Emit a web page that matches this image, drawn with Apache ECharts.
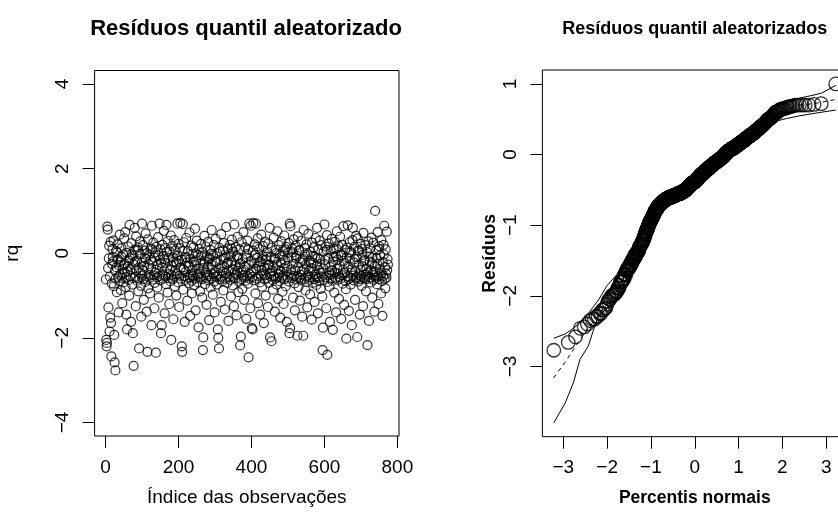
<!DOCTYPE html>
<html>
<head>
<meta charset="utf-8">
<script src="https://cdn.jsdelivr.net/npm/echarts@6/dist/echarts.min.js"></script>
<style>
html,body{margin:0;padding:0;background:#fff;}
#main{width:838px;height:529px;}
</style>
</head>
<body>
<div id="main"></div>
<script>
// ---- Data ----
// Randomized quantile residuals (rq), in observation order (index 1..774)
const rq = [
-0.62,-2.05,-2.2,-2.12,0.63,0.56,-0.35,-1.28,-0.12,0.18,-1.85,-0.55,-1.52,0.27,-1.65,-2.44,-0.71,-0.25,0.1,-0.09,
-0.19,0.3,-0.78,-1.93,-2.58,-0.41,-2.77,-0.6,0.05,-0.33,-0.92,0.02,0.21,-0.15,-0.56,-1.4,-0.29,-0.66,0.44,-0.51,
-0.2,-0.87,-0.08,0.12,-0.58,-1.18,-0.37,-0.03,-0.69,-0.28,0.35,-0.24,-0.46,0.5,-0.8,-0.57,-1.45,0.01,-1.8,-0.43,
-0.31,0.16,-0.63,-0.17,-1.0,0.67,-0.12,-0.54,-0.38,-1.62,0.24,-0.02,-0.74,-0.06,-1.89,-0.59,-2.66,-0.27,0.08,0.6,
-0.21,-0.56,-1.25,0.4,-0.41,-0.18,-0.65,0.06,0.14,-0.9,-0.34,-2.25,-0.6,-0.02,0.28,-0.47,-0.77,-1.5,-0.22,0.7,
-0.53,-0.4,0.19,-0.61,-1.1,-0.3,0.06,-0.11,-0.68,0.47,-0.14,-0.55,-1.38,0.0,-2.33,0.33,-0.83,-0.26,-0.51,-0.04,
-0.58,-0.95,0.11,-0.16,-0.35,-1.7,0.65,0.09,-0.2,-0.62,0.25,-0.52,-0.1,-1.3,-0.7,0.02,-0.45,-2.35,0.15,-0.39,
-0.57,-0.81,-0.28,0.38,-0.05,-1.05,-0.54,0.7,-0.16,-0.64,0.09,-1.89,-0.23,-1.7,-0.33,0.2,-0.5,-0.6,-0.07,0.53,
-0.14,-1.42,-0.23,-0.55,0.13,-0.73,0.67,0.03,-0.36,-0.93,0.29,-0.59,-0.11,-0.5,-1.2,0.04,-0.4,-0.66,0.42,-2.05,
-0.52,-0.3,0.17,-0.62,-0.09,-1.56,-0.19,0.31,-0.55,-0.78,-0.41,0.07,-0.21,-1.0,-0.25,-0.49,0.7,-0.05,-0.69,0.22,
-0.18,-1.27,-0.53,0.12,0.72,-0.34,-0.6,-0.15,-2.2,-2.33,0.05,0.69,-0.86,-0.38,0.26,-0.54,-1.62,-0.09,-0.63,-0.44,
0.36,-0.1,-0.22,-1.12,-0.58,0.05,-0.3,-0.71,-0.31,0.49,-0.56,-1.48,-0.13,-0.52,0.18,-0.65,-0.95,-0.4,-0.02,-0.53,
0.14,-0.2,-0.76,-0.28,0.58,-0.6,-1.35,0.0,-0.17,0.3,-0.51,-0.68,-0.04,-0.55,-1.75,-0.37,0.1,-0.48,-0.9,-0.24,
-0.57,0.22,-0.06,-0.61,-1.05,0.03,-2.29,-1.99,-0.35,-0.24,0.41,-0.2,-0.73,-0.46,0.16,-0.58,-1.22,-0.08,-0.5,-0.32,
0.27,-0.64,-0.15,-1.58,-0.12,-0.54,0.08,-0.81,-0.02,-0.27,0.55,-0.59,-0.39,-0.98,-0.05,-0.5,0.19,-0.67,-1.4,-0.45,
-0.21,0.34,-0.56,-0.19,-0.74,0.0,-0.52,-1.8,-2.0,-0.36,-2.25,0.13,-0.61,0.04,-0.16,-1.15,0.45,-0.55,-0.29,-0.66,
-0.44,0.07,-0.88,-0.11,0.24,-0.33,-1.33,-0.6,-0.1,-0.47,0.62,-0.57,-0.25,-0.7,0.11,-0.22,-1.6,-0.41,-0.03,-0.55,
0.2,-0.63,-0.07,-1.02,-0.19,0.32,0.1,-0.38,-0.76,0.04,-0.58,-1.25,0.68,-0.46,-0.29,-0.6,0.15,-0.51,-1.47,-0.07,
-0.42,0.39,-0.12,-0.92,-0.35,-0.67,0.09,-0.26,-2.18,-0.23,-1.97,-0.61,0.26,-0.44,-0.84,-0.14,-0.53,0.5,-0.39,-1.1,
-0.58,-0.31,0.14,-0.65,-0.1,-1.55,-0.02,-0.54,0.3,-0.72,0.08,-2.46,-0.27,0.7,-0.6,-0.5,-1.3,0.65,-0.18,-0.45,
-1.77,-0.56,-1.8,0.06,0.71,-0.41,-0.64,-0.24,0.21,-0.04,-0.95,0.7,-0.37,-0.6,-0.11,0.16,0.35,-1.18,-0.55,-0.3,
0.1,-0.21,-0.69,-1.45,-0.2,-0.53,0.44,-0.4,-0.79,-0.06,-0.14,0.17,-0.48,-1.65,-0.34,-0.62,0.27,-0.51,-1.0,-0.15,
-0.08,0.02,-0.59,-0.36,-1.27,0.23,-0.28,-0.7,-0.26,0.6,-1.99,-0.47,-0.09,-0.55,-2.08,0.13,-0.41,-0.63,-0.86,-0.32,
0.37,-0.54,-0.16,-1.38,-0.12,-0.6,0.08,0.0,-0.74,-0.28,0.52,-0.57,-1.08,-0.4,0.19,-0.5,-0.66,-0.04,-1.52,-0.43,
-0.22,0.28,-0.58,-0.06,-0.91,0.05,-0.53,-1.2,-0.35,0.42,-0.61,-0.17,0.09,-0.78,0.15,-0.44,-1.62,-0.3,-0.56,0.01,
-0.13,0.24,-0.67,-1.89,0.7,-1.77,0.64,-0.52,-0.38,-0.1,-0.59,0.11,0.02,-1.05,-0.25,0.33,-0.54,-0.71,-1.35,-0.41,
0.18,-0.11,-0.62,-0.06,-0.56,-1.95,0.4,-0.33,-0.8,0.06,0.07,-0.58,-1.12,-0.21,-0.51,0.29,-0.64,-0.43,-1.5,-0.13,
-0.17,-1.95,0.55,-0.39,-0.6,0.12,-0.03,-0.88,-0.27,-0.55,0.21,-0.68,-1.28,-0.03,-0.52,0.46,-0.42,-0.63,-0.18,-0.57,
-0.97,0.03,-0.22,-0.35,-1.57,0.25,-0.07,-0.7,-0.23,-0.44,0.14,-0.61,-1.15,-0.08,-0.5,0.36,-0.56,-0.75,-0.3,0.6,
-0.12,-1.42,0.09,-0.58,-0.4,-0.66,0.3,-0.26,-0.14,-0.84,-0.47,0.19,-0.55,-1.02,-2.29,-1.76,-0.36,0.04,-0.62,0.68,
-0.16,-0.26,0.16,-0.57,-1.3,0.08,0.43,-2.4,-0.68,-0.11,-0.52,0.23,-0.45,-0.79,-1.62,-0.33,0.06,-0.6,-0.5,0.34,
-0.41,-0.65,-1.81,-0.2,0.1,-0.09,-0.93,-0.46,0.27,-0.58,-0.07,-1.4,0.11,0.52,-0.37,-0.63,-0.15,-0.48,0.17,-1.08,
-0.56,-0.29,0.39,-0.6,-0.05,-1.55,-0.05,-0.52,0.2,-0.72,-0.39,0.64,-0.18,-1.22,-0.24,-0.47,0.08,-0.66,-0.85,-2.02,
-0.1,0.13,-0.55,0.66,-0.32,-0.61,-1.36,0.02,0.26,-0.13,-0.58,-0.74,0.02,-0.46,-1.7,-0.38,0.31,0.6,-0.53,-0.64,
-0.22,0.15,-0.14,-1.1,-0.42,-0.59,0.41,-0.09,-0.56,-1.98,0.35,0.07,-0.67,-0.27,0.05,-0.52,-1.45,-0.61,0.22,-0.4,
-0.54,-0.77,0.1,-0.04,-0.31,-1.25,0.48,-0.58,-0.19,-0.16,-0.62,0.19,-0.5,-0.9,-0.36,0.03,-0.55,-2.17,-0.45,0.28,
-0.6,-1.6,-0.08,-0.2,0.12,-0.57,-0.69,-0.41,0.37,-0.23,-1.05,-0.1,-0.46,0.25,-0.63,-0.52,-1.38,-0.3,1.0,-0.44,
-0.58,0.07,-0.12,-0.73,-0.26,0.5,-0.55,-1.2,0.09,0.17,-0.61,-0.37,-0.05,-0.52,-0.95,0.31,-0.47,-0.66,-1.48,-0.21,
-0.54,0.2,-0.03,0.65,-0.6,-0.33,-0.83,0.09,-0.49,-0.58,0.51,-0.4,-0.14,-0.27
];

// Simulated envelope: theoretical quantile, lower, median, upper
const envX      = [-3.22,-2.96,-2.77,-2.62,-2.43,-2.32,-2.2,-2.01,-1.78,-1.48,-1.25,-1.0,-0.7,-0.35,0,0.35,0.7,1.0,1.3,1.6,1.9,2.1,2.4,2.7,2.9,3.22];
const envLower  = [-3.80,-3.52,-3.23,-2.90,-2.71,-2.50,-2.29,-2.18,-2.02,-1.66,-1.39,-0.99,-0.71,-0.56,-0.44,-0.27,-0.08,0.10,0.26,0.40,0.48,0.51,0.55,0.58,0.60,0.63];
const envMedian = [-3.16,-2.94,-2.76,-2.62,-2.46,-2.37,-2.27,-2.13,-1.93,-1.58,-1.33,-0.95,-0.66,-0.51,-0.39,-0.22,-0.02,0.15,0.31,0.46,0.59,0.65,0.70,0.72,0.74,0.78];
const envUpper  = [-2.60,-2.54,-2.46,-2.38,-2.25,-2.16,-2.06,-1.86,-1.70,-1.35,-1.20,-0.86,-0.61,-0.46,-0.34,-0.17,0.03,0.21,0.37,0.53,0.67,0.75,0.80,0.84,0.87,0.98];

// Tick labels
const xTicksLeft  = [0,200,400,600,800];
const yTicksLeft  = [-4,-2,0,2,4];
const xTicksRight = [-3,-2,-1,0,1,2,3];
const yTicksRight = [-3,-2,-1,0,1];

// ---- Normal QQ positions of the residuals (plotting positions (i-0.5)/n) ----
function qnorm(p){
  const a=[-3.969683028665376e+01,2.209460984245205e+02,-2.759285104469687e+02,1.383577518672690e+02,-3.066479806614716e+01,2.506628277459239e+00];
  const b=[-5.447609879822406e+01,1.615858368580409e+02,-1.556989798598866e+02,6.680131188771972e+01,-1.328068155288572e+01];
  const c=[-7.784894002430293e-03,-3.223964580411365e-01,-2.400758277161838e+00,-2.549732539343734e+00,4.374664141464968e+00,2.938163982698783e+00];
  const d=[7.784695709041462e-03,3.224671290700398e-01,2.445134137142996e+00,3.754408661907416e+00];
  const pl=0.02425, ph=1-pl;
  let q,r;
  if(p<pl){q=Math.sqrt(-2*Math.log(p));return (((((c[0]*q+c[1])*q+c[2])*q+c[3])*q+c[4])*q+c[5])/((((d[0]*q+d[1])*q+d[2])*q+d[3])*q+1);}
  if(p<=ph){q=p-0.5;r=q*q;return (((((a[0]*r+a[1])*r+a[2])*r+a[3])*r+a[4])*r+a[5])*q/(((((b[0]*r+b[1])*r+b[2])*r+b[3])*r+b[4])*r+1);}
  q=Math.sqrt(-2*Math.log(1-p));return -(((((c[0]*q+c[1])*q+c[2])*q+c[3])*q+c[4])*q+c[5])/((((d[0]*q+d[1])*q+d[2])*q+d[3])*q+1);
}
const n = rq.length;
const sorted = rq.slice().sort((u,v)=>u-v);
const qqData = sorted.map((v,i)=>[qnorm((i+0.5)/n), v]);
const scatterData = rq.map((v,i)=>[i+1, v]);

const FONT = '"Liberation Sans", Arial, Helvetica, sans-serif';
const minus = v => String(v).replace('-', '\u2212');

function axisCommon(ticks, extra){
  return Object.assign({
    type:'value',
    axisLine:{show:false, onZero:false},
    axisTick:{show:true, inside:false, length:12, customValues:ticks, lineStyle:{color:'#000', width:1}},
    splitLine:{show:false},
    nameTextStyle:{color:'#000', fontFamily:FONT, fontSize:19}
  }, extra);
}

const chart = echarts.init(document.getElementById('main'), null, {renderer:'canvas'});
chart.setOption({
  animation:false,
  backgroundColor:'#fff',
  title:[
    {text:'Resíduos quantil aleatorizado', left:246, top:18, textAlign:'center', padding:0,
     textStyle:{fontFamily:FONT, fontSize:22, fontWeight:'bold', color:'#000'}},
    {text:'Resíduos quantil aleatorizados', left:694.8, top:20, textAlign:'center', padding:0,
     textStyle:{fontFamily:FONT, fontSize:18, fontWeight:'bold', color:'#000'}}
  ],
  grid:[
    {left:94.6, top:70.5, width:304.4, height:365.5, show:true, borderColor:'#000', borderWidth:1, backgroundColor:'transparent', containLabel:false, outerBoundsMode:'none'},
    {left:542.4, top:70, width:304.7, height:366.7, show:true, borderColor:'#000', borderWidth:1, backgroundColor:'transparent', containLabel:false, outerBoundsMode:'none'}
  ],
  xAxis:[
    axisCommon(xTicksLeft, {gridIndex:0, min:-29.9, max:804.4,
      name:'Índice das observações', nameLocation:'middle', nameGap:52,
      axisLabel:{customValues:xTicksLeft, color:'#000', fontSize:19, fontFamily:FONT, margin:22, formatter:minus}}),
    axisCommon(xTicksRight, {gridIndex:1, min:-3.478, max:3.478,
      name:'Percentis normais', nameLocation:'middle', nameGap:52,
      nameTextStyle:{color:'#000', fontFamily:FONT, fontSize:17.5, fontWeight:'bold'},
      axisLabel:{customValues:xTicksRight, color:'#000', fontSize:19, fontFamily:FONT, margin:22, formatter:minus}})
  ],
  yAxis:[
    axisCommon(yTicksLeft, {gridIndex:0, min:-4.32, max:4.32,
      name:'rq', nameLocation:'middle', nameGap:72, nameRotate:90,
      axisLabel:{customValues:yTicksLeft, color:'#000', fontSize:19, fontFamily:FONT, margin:22, rotate:90, formatter:minus}}),
    axisCommon(yTicksRight, {gridIndex:1, min:-3.994, max:1.197,
      name:'Resíduos', nameLocation:'middle', nameGap:43, nameRotate:90,
      nameTextStyle:{color:'#000', fontFamily:FONT, fontSize:17.5, fontWeight:'bold'},
      axisLabel:{customValues:yTicksRight, color:'#000', fontSize:19, fontFamily:FONT, margin:22, rotate:90, formatter:minus}})
  ],
  series:[
    {type:'scatter', xAxisIndex:0, yAxisIndex:0, data:scatterData, symbol:'circle', symbolSize:9,
     itemStyle:{color:'rgba(0,0,0,0)', borderColor:'#000', borderWidth:1.2}, silent:true},
    {type:'scatter', xAxisIndex:1, yAxisIndex:1, data:qqData, symbol:'circle', symbolSize:13.5,
     itemStyle:{color:'rgba(0,0,0,0)', borderColor:'#000', borderWidth:1.3}, silent:true},
    {type:'line', xAxisIndex:1, yAxisIndex:1, data:envX.map((x,i)=>[x,envLower[i]]), showSymbol:false, symbol:'none',
     lineStyle:{color:'#000', width:1}, silent:true, z:3},
    {type:'line', xAxisIndex:1, yAxisIndex:1, data:envX.map((x,i)=>[x,envUpper[i]]), showSymbol:false, symbol:'none',
     lineStyle:{color:'#000', width:1}, silent:true, z:3},
    {type:'line', xAxisIndex:1, yAxisIndex:1, data:envX.map((x,i)=>[x,envMedian[i]]), showSymbol:false, symbol:'none',
     lineStyle:{color:'#000', width:1, type:[4,4]}, silent:true, z:3}
  ]
});
</script>
</body>
</html>
